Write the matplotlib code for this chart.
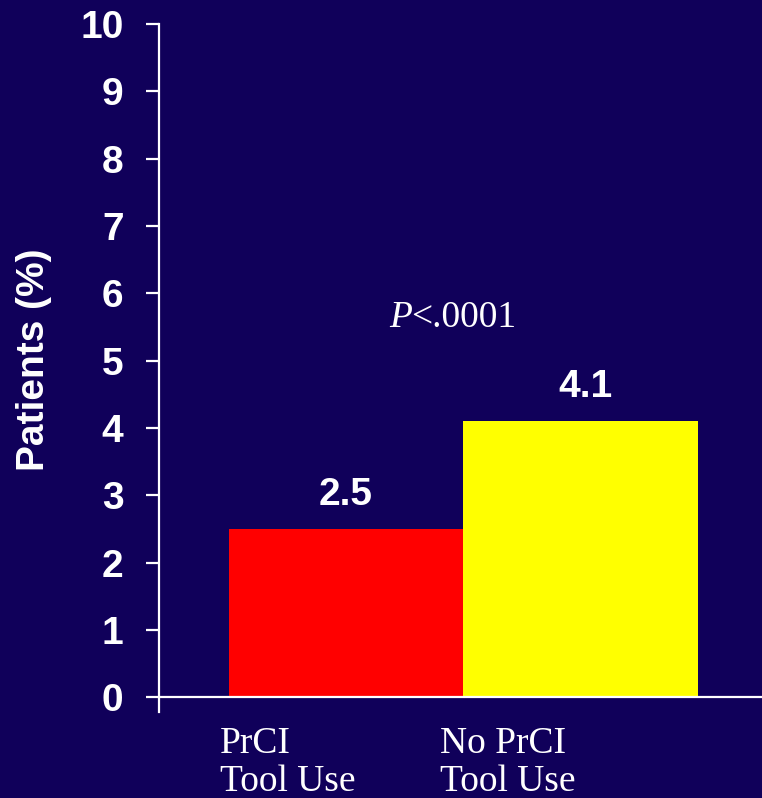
import matplotlib
matplotlib.use("Agg")
import matplotlib.pyplot as plt

categories = ["PrCI\nTool Use", "No PrCI\nTool Use"]
values = [2.5, 4.1]
bar_colors = ["#FF0000", "#FFFF00"]
value_labels = ["2.5", "4.1"]
yticks = list(range(0, 11))

BG = "#10005A"
fig = plt.figure(figsize=(7.62, 7.98), dpi=100, facecolor=BG)
ax = fig.add_axes([159/762, 1-712/798, 1-159/762, (712-24)/798])
ax.set_facecolor(BG)

x = list(range(len(values)))
ax.bar(x, values, width=1.0, color=bar_colors, edgecolor="none", zorder=2)
ax.set_xlim(-0.797, 1.774)
ax.set_ylim(-0.22, 10)

for s in ["top", "right", "bottom"]:
    ax.spines[s].set_visible(False)
ax.spines["left"].set_color("white")
ax.spines["left"].set_linewidth(1.6)
ax.axhline(0, color="white", lw=1.6, zorder=3)

ax.set_yticks(yticks)
ax.set_yticklabels([str(t) for t in yticks], fontfamily="Liberation Sans",
                   fontweight="bold", fontsize=28, color="white")
ax.tick_params(axis="y", colors="white", length=9.5, width=1.6, pad=16)
ax.set_xticks([])

fig.text(34/762, 1-360/798, "Patients (%)", rotation=90, ha="center", va="center",
         fontfamily="Liberation Sans", fontweight="bold", fontsize=28, color="white")

label_dx = [0, 3.5]
for xi, v, lab, dx in zip(x, values, value_labels, label_dx):
    ax.annotate(lab, (xi, v), xytext=(dx, 11.5), textcoords="offset points",
                ha="center", va="bottom", fontfamily="Liberation Sans",
                fontweight="bold", fontsize=28, color="white")

ax.text(0.28, 5.5, "P", fontfamily="Liberation Serif", style="italic",
        fontsize=27, color="white", ha="right", va="baseline")
ax.text(0.28, 5.5, "<.0001", fontfamily="Liberation Serif",
        fontsize=27, color="white", ha="left", va="baseline")

offsets = [-126, -140]
for xi, cat, off in zip(x, categories, offsets):
    ax.annotate(cat, (xi, 0), xytext=(off * 0.72, -21), textcoords="offset points",
                ha="left", va="top", fontfamily="Liberation Serif", fontsize=27,
                color="white", linespacing=1.15, annotation_clip=False)

fig.savefig("out.png", dpi=100, facecolor=BG)
